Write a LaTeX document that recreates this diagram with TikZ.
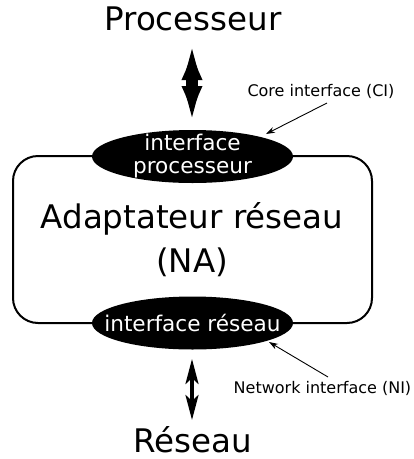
\documentclass[tikz,border=0pt]{standalone}
\usepackage{fontspec}
\setmainfont{DejaVu Sans}
\usetikzlibrary{arrows.meta,shapes.geometric}
\begin{document}
\begin{tikzpicture}[x=1pt,y=-1pt,
  iface/.style={ellipse,fill=black,minimum width=201pt,minimum height=53pt,inner sep=0pt},
  ifacetext/.style={text=white,inner sep=0pt,align=center,font=\fontsize{21.6}{23}\selectfont},
  big/.style={font=\fontsize{32.5}{44}\selectfont,inner sep=0pt,align=center},
  note/.style={font=\fontsize{16}{18}\selectfont,inner sep=0pt},
  notearrow/.style={line width=0.9pt,-{Stealth[length=9pt,width=6pt]}},
  bigarrow/.style={line width=12pt,{Latex[length=37pt,width=21pt]}-{Latex[length=37pt,width=21pt]}},
  smallarrow/.style={line width=3.5pt,{Stealth[length=25pt,width=13pt,inset=6pt]}-{Stealth[length=25pt,width=13pt,inset=6pt]}}]
\useasboundingbox (0,0) rectangle (414,459);
\draw[line width=2pt,rounded corners=25pt] (13,156) rectangle (372,323);
\node[big] (na) at (192,240) {Adaptateur réseau\\(NA)};
\node[iface,label={[ifacetext]center:interface\\processeur}] (pi) at (192.5,156.5) {};
\node[iface,label={[ifacetext]center:interface réseau}] (ri) at (192.5,323) {};
\node[big,anchor=base] (proc) at (193,30) {Processeur};
\node[big,anchor=base] (res) at (192.5,452) {Réseau};
\node[note] (ci) at (321,91) {Core interface (CI)};
\node[note] (ni) at (322.5,388) {Network interface (NI)};
\coordinate (pa) at (192,43);
\coordinate (pb) at (192,123);
\coordinate (ra) at (192,359);
\coordinate (rb) at (192,420);
\coordinate (cis) at (327,103);
\coordinate (cie) at (266,134);
\coordinate (nis) at (328,377);
\coordinate (nie) at (269,342);
\draw[bigarrow] (pa) -- (pb);
\draw[smallarrow] (ra) -- (rb);
\draw[notearrow] (cis) -- (cie);
\draw[notearrow] (nis) -- (nie);
\end{tikzpicture}
\end{document}
